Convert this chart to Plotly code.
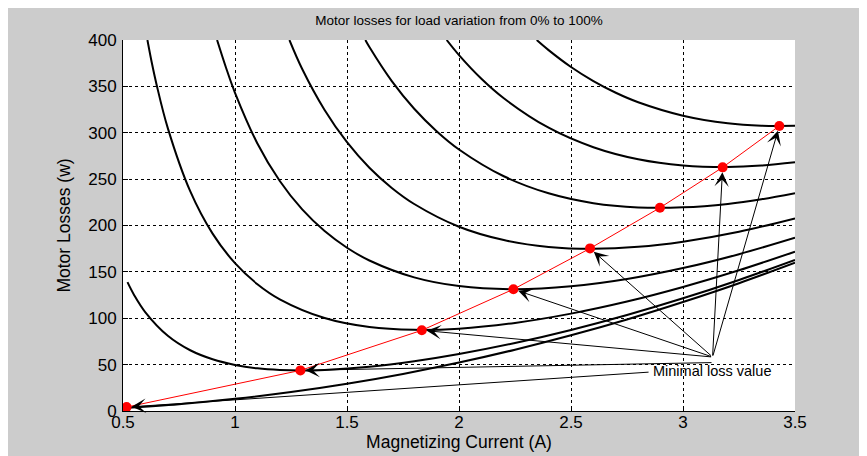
import plotly.graph_objects as go

# ---- data ----
x_ticks = [0.5, 1.0, 1.5, 2.0, 2.5, 3.0, 3.5]
x_tick_labels = ["0.5", "1", "1.5", "2", "2.5", "3", "3.5"]
y_ticks = [0, 50, 100, 150, 200, 250, 300, 350, 400]
y_tick_labels = ["0", "50", "100", "150", "200", "250", "300", "350", "400"]

curve1_x = [0.50, 0.75, 1.0, 1.25, 1.5, 1.75, 2.0, 2.25, 2.5, 2.75, 3.0, 3.25, 3.5]
curve1_y = [3.3, 7.3, 13.1, 20.4, 29.4, 40.0, 52.2, 66.1, 81.6, 98.7, 117.5, 137.8, 159.9]

curve2_x = [0.52, 0.55, 0.6, 0.7, 0.8, 0.9, 1.0, 1.1, 1.2, 1.3, 1.4, 1.6, 1.8, 2.0, 2.25, 2.5, 2.75, 3.0, 3.25, 3.5]
curve2_y = [138.9, 124.9, 106.4, 81.1, 65.5, 55.8, 49.7, 46.0, 44.2, 43.7, 44.3, 47.7, 53.6, 61.4, 73.3, 87.4, 103.5, 121.5, 141.3, 162.9]

curve3_x = [0.609, 0.63, 0.65, 0.7, 0.8, 0.9, 1.0, 1.1, 1.2, 1.4, 1.6, 1.8, 2.0, 2.25, 2.5, 2.75, 3.0, 3.25, 3.5]
curve3_y = [400, 373.8, 351.8, 305.0, 237.0, 191.2, 159.4, 136.7, 120.4, 100.2, 90.5, 87.5, 88.8, 95.0, 105.0, 118.0, 133.7, 151.7, 171.8]

curve4_x = [0.92, 0.96, 1.0, 1.1, 1.2, 1.3, 1.4, 1.5, 1.6, 1.8, 2.0, 2.25, 2.5, 2.75, 3.0, 3.25, 3.5]
curve4_y = [400, 370.1, 343.1, 288.5, 248.0, 217.3, 194.0, 176.0, 162.3, 144.1, 134.7, 131.3, 134.4, 142.3, 154.1, 169.1, 186.8]

curve5_x = [1.243, 1.3, 1.4, 1.5, 1.6, 1.7, 1.8, 2.0, 2.2, 2.4, 2.6, 2.8, 3.0, 3.25, 3.5]
curve5_y = [400, 368.8, 324.6, 289.8, 262.3, 240.5, 223.2, 198.7, 184.3, 176.9, 174.9, 177.0, 182.6, 193.3, 207.7]

curve6_x = [1.582, 1.6, 1.7, 1.8, 1.9, 2.0, 2.2, 2.4, 2.6, 2.8, 3.0, 3.2, 3.35, 3.5]
curve6_y = [400, 392.4, 355.7, 325.9, 301.7, 282.0, 253.1, 234.7, 224.1, 219.5, 219.6, 223.3, 228.3, 234.9]

curve7_x = [1.945, 2.0, 2.1, 2.2, 2.4, 2.6, 2.8, 3.0, 3.2, 3.35, 3.5]
curve7_y = [400, 383.7, 358.2, 337.2, 305.4, 284.4, 271.4, 264.8, 263.1, 264.6, 268.1]

curve8_x = [2.347, 2.4, 2.5, 2.6, 2.7, 2.8, 3.0, 3.2, 3.35, 3.5]
curve8_y = [400, 389.1, 370.9, 355.7, 343.1, 332.9, 318.4, 310.2, 307.6, 307.5]

min_x = [0.516, 1.292, 1.834, 2.243, 2.585, 2.897, 3.177, 3.430]
min_y = [4.2, 43.8, 87.0, 131.3, 175.3, 219.1, 262.7, 307.3]

# arrows: head point (a minimum) and tail (near the label); the 2.897 point has none
arrow_head_x = [0.516, 1.292, 1.834, 2.243, 2.585, 3.177, 3.430]
arrow_head_y = [4.2, 43.8, 87.0, 131.3, 175.3, 262.7, 307.3]
arrow_tail_x = [2.853, 3.134, 3.132, 3.132, 3.132, 3.132, 3.132]
arrow_tail_y = [42.0, 52.2, 58.2, 58.2, 58.2, 58.2, 58.2]

label_text = "Minimal loss value"
label_x = 2.858
label_y = 43.0

FONT = "Liberation Sans, Arial, Helvetica, sans-serif"

fig = go.Figure()

curves = [(curve1_x, curve1_y), (curve2_x, curve2_y), (curve3_x, curve3_y), (curve4_x, curve4_y),
          (curve5_x, curve5_y), (curve6_x, curve6_y), (curve7_x, curve7_y), (curve8_x, curve8_y)]
for cx, cy in curves:
    fig.add_trace(go.Scatter(x=cx, y=cy, mode="lines",
                             line=dict(color="black", width=2, shape="spline", smoothing=1.0),
                             hoverinfo="skip", showlegend=False))

fig.add_trace(go.Scatter(x=min_x, y=min_y, mode="lines+markers",
                         line=dict(color="#ff0000", width=1),
                         marker=dict(color="#ff0000", size=10),
                         showlegend=False))

annotations = []
for hx, hy, tx, ty in zip(arrow_head_x, arrow_head_y, arrow_tail_x, arrow_tail_y):
    annotations.append(dict(x=hx, y=hy, ax=tx, ay=ty, xref="x", yref="y", axref="x", ayref="y",
                            showarrow=True, arrowhead=3, arrowsize=2.4, arrowwidth=1,
                            arrowcolor="black", standoff=5, text=""))
annotations.append(dict(x=label_x, y=label_y, xref="x", yref="y", text=label_text,
                        showarrow=False, xanchor="left", yanchor="middle",
                        font=dict(family=FONT, size=14.5, color="black")))

# the page adds an 8px white body margin at top/left, so the figure fills the rest
W, H = 859, 448
L, R, T, B = 115, 72, 32, 45

fig.update_layout(
    width=W, height=H,
    margin=dict(l=L, r=R, t=T, b=B, autoexpand=False),
    paper_bgcolor="#cccccc",
    plot_bgcolor="white",
    font=dict(family=FONT, color="black"),
    title=dict(text="Motor losses for load variation from 0% to 100%",
               x=0.5, xref="paper", xanchor="center",
               y=1 - 12 / H, yref="container", yanchor="middle",
               font=dict(family=FONT, size=13.5, color="black")),
    annotations=annotations,
    showlegend=False,
)

fig.update_xaxes(range=[0.5, 3.5], tickvals=x_ticks, ticktext=x_tick_labels,
                 showline=True, linecolor="black", linewidth=1,
                 ticks="inside", ticklen=5, tickcolor="black",
                 showgrid=True, gridcolor="black", gridwidth=1, griddash="dot",
                 zeroline=False, tickfont=dict(size=17), automargin=False,
                 ticklabelstandoff=-4,
                 title=dict(text="Magnetizing Current (A)", font=dict(size=17.5), standoff=0))
fig.update_yaxes(range=[0, 400], tickvals=y_ticks, ticktext=y_tick_labels,
                 showline=True, linecolor="black", linewidth=1,
                 ticks="inside", ticklen=5, tickcolor="black",
                 showgrid=True, gridcolor="black", gridwidth=1, griddash="dot",
                 zeroline=False, tickfont=dict(size=17), automargin=False,
                 ticklabelstandoff=2,
                 title=dict(text="Motor Losses (w)", font=dict(size=17.5), standoff=13))

fig.write_html("out.html")
